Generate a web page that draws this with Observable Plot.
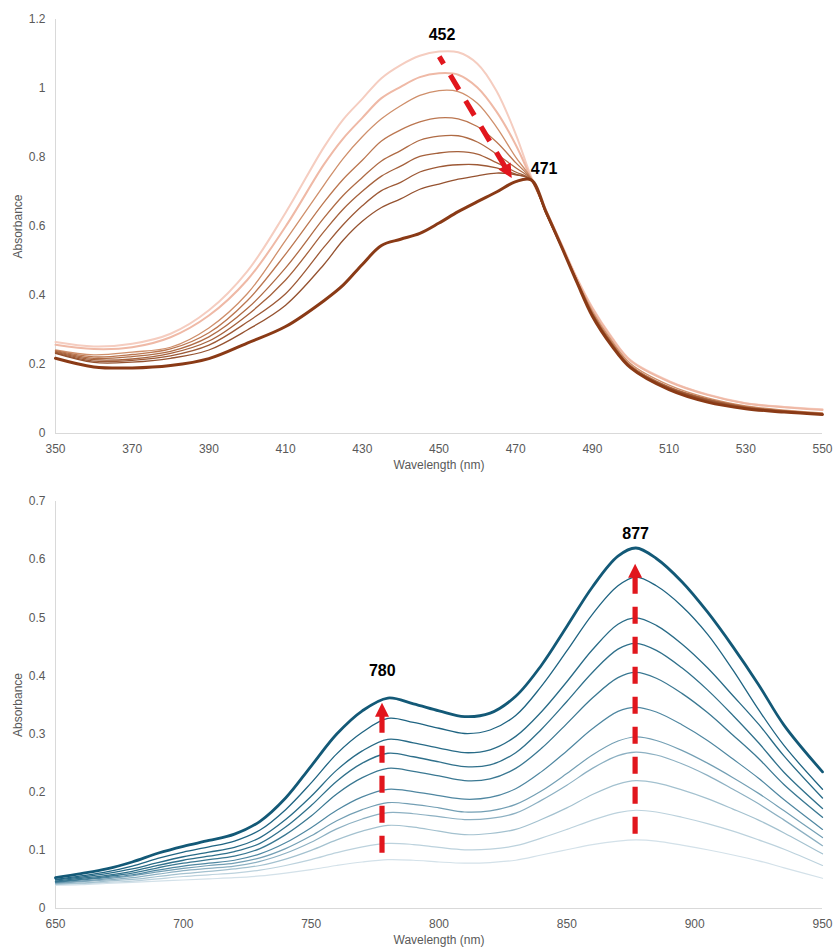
<!DOCTYPE html>
<html>
<head>
<meta charset="utf-8">
<script src="https://cdn.jsdelivr.net/npm/d3@7"></script>
<script src="https://cdn.jsdelivr.net/npm/@observablehq/plot@0.6"></script>
<style>
  html, body { margin: 0; padding: 0; background: #fff; }
  #charts svg { display: block; }
</style>
</head>
<body>
<div id="charts"></div>
<script>
// ---------- Visible region (350–550 nm): nine spectra, first to last ----------
const visWavelength = [350,360,370,380,390,400,410,420,425,430,435,440,445,450,455,460,465,470,474,478,482,486,490,495,500,510,520,530,540,550];
const visSpectrum1 = [0.265,0.252,0.260,0.289,0.357,0.470,0.640,0.830,0.910,0.970,1.030,1.068,1.095,1.107,1.105,1.072,0.993,0.868,0.745,0.645,0.548,0.450,0.365,0.280,0.212,0.152,0.113,0.088,0.077,0.070];
const visSpectrum2 = [0.257,0.245,0.250,0.279,0.342,0.445,0.600,0.780,0.855,0.915,0.972,1.005,1.033,1.044,1.040,1.003,0.933,0.837,0.740,0.643,0.546,0.448,0.362,0.277,0.210,0.150,0.112,0.087,0.076,0.068];
const visSpectrum3 = [0.242,0.228,0.236,0.250,0.306,0.405,0.560,0.720,0.797,0.860,0.912,0.950,0.980,0.994,0.991,0.957,0.888,0.801,0.740,0.640,0.543,0.445,0.355,0.270,0.202,0.140,0.103,0.080,0.068,0.060];
const visSpectrum4 = [0.240,0.222,0.229,0.245,0.292,0.385,0.520,0.670,0.737,0.792,0.848,0.880,0.903,0.915,0.912,0.890,0.845,0.785,0.738,0.638,0.541,0.443,0.350,0.265,0.197,0.135,0.100,0.078,0.066,0.058];
const visSpectrum5 = [0.238,0.218,0.223,0.238,0.280,0.362,0.480,0.625,0.690,0.742,0.790,0.820,0.850,0.862,0.863,0.845,0.810,0.770,0.737,0.637,0.540,0.442,0.348,0.262,0.195,0.134,0.099,0.077,0.065,0.057];
const visSpectrum6 = [0.236,0.214,0.216,0.232,0.268,0.343,0.445,0.585,0.650,0.702,0.746,0.775,0.803,0.813,0.817,0.810,0.785,0.758,0.736,0.636,0.539,0.441,0.346,0.260,0.193,0.133,0.098,0.076,0.064,0.056];
const visSpectrum7 = [0.234,0.210,0.212,0.225,0.256,0.323,0.405,0.540,0.605,0.660,0.704,0.728,0.758,0.773,0.779,0.779,0.770,0.752,0.735,0.636,0.539,0.441,0.345,0.259,0.192,0.132,0.097,0.075,0.064,0.056];
const visSpectrum8 = [0.232,0.206,0.207,0.218,0.242,0.300,0.372,0.490,0.560,0.615,0.655,0.680,0.708,0.723,0.737,0.747,0.755,0.750,0.735,0.635,0.538,0.440,0.344,0.258,0.191,0.130,0.095,0.074,0.063,0.055];
const visSpectrum9 = [0.218,0.193,0.190,0.197,0.217,0.262,0.310,0.385,0.430,0.490,0.545,0.563,0.580,0.610,0.643,0.672,0.700,0.730,0.735,0.640,0.540,0.437,0.340,0.255,0.190,0.127,0.091,0.072,0.062,0.055];
const visSpectra = [visSpectrum1, visSpectrum2, visSpectrum3, visSpectrum4, visSpectrum5, visSpectrum6, visSpectrum7, visSpectrum8, visSpectrum9];
const visXTicks = [350,370,390,410,430,450,470,490,510,530,550];
const visYTicks = [0,0.2,0.4,0.6,0.8,1,1.2];
const visPeakText = ["452", "471"];
const visPeakX = [450.8, 477.4];
const visPeakY = [1.156, 0.768];
const visArrows = [{x1: 450.2, y1: 1.091, x2: 469.1, y2: 0.739}];

// ---------- Near-IR region (650–950 nm): eleven spectra, first to last ----------
const nirWavelength = [650,660,670,680,690,700,710,720,730,740,750,760,770,780,790,800,810,820,830,840,850,860,870,877,885,895,905,915,925,935,950];
const nirSpectrum1  = [0.040,0.041,0.043,0.045,0.047,0.049,0.051,0.053,0.056,0.061,0.067,0.074,0.080,0.084,0.083,0.080,0.078,0.079,0.083,0.092,0.101,0.110,0.116,0.118,0.116,0.109,0.101,0.092,0.082,0.070,0.052];
const nirSpectrum2  = [0.041,0.043,0.045,0.047,0.051,0.055,0.058,0.061,0.066,0.074,0.084,0.096,0.106,0.112,0.110,0.105,0.101,0.102,0.108,0.121,0.136,0.152,0.165,0.169,0.166,0.157,0.146,0.133,0.118,0.102,0.074];
const nirSpectrum3  = [0.042,0.044,0.047,0.050,0.055,0.060,0.064,0.068,0.074,0.085,0.100,0.118,0.133,0.143,0.140,0.133,0.127,0.129,0.136,0.153,0.173,0.196,0.214,0.220,0.216,0.204,0.189,0.171,0.152,0.130,0.094];
const nirSpectrum4  = [0.043,0.046,0.049,0.053,0.059,0.065,0.069,0.073,0.081,0.095,0.114,0.137,0.154,0.165,0.163,0.158,0.153,0.155,0.164,0.186,0.212,0.241,0.263,0.269,0.264,0.249,0.229,0.205,0.180,0.152,0.108];
const nirSpectrum5  = [0.044,0.047,0.051,0.056,0.063,0.069,0.074,0.078,0.087,0.103,0.125,0.151,0.170,0.182,0.179,0.173,0.166,0.168,0.179,0.202,0.232,0.264,0.288,0.295,0.289,0.272,0.250,0.225,0.198,0.168,0.122];
const nirSpectrum6  = [0.045,0.049,0.053,0.058,0.066,0.073,0.078,0.083,0.094,0.113,0.139,0.169,0.192,0.205,0.201,0.194,0.188,0.191,0.206,0.235,0.271,0.309,0.339,0.346,0.338,0.316,0.289,0.257,0.224,0.187,0.136];
const nirSpectrum7  = [0.046,0.050,0.055,0.061,0.070,0.078,0.084,0.090,0.103,0.127,0.159,0.197,0.225,0.241,0.236,0.228,0.220,0.223,0.241,0.275,0.318,0.362,0.397,0.406,0.396,0.370,0.337,0.298,0.258,0.213,0.157];
const nirSpectrum8  = [0.047,0.052,0.057,0.064,0.074,0.083,0.090,0.098,0.112,0.140,0.177,0.219,0.250,0.267,0.261,0.252,0.244,0.247,0.268,0.308,0.356,0.406,0.446,0.456,0.444,0.414,0.376,0.332,0.285,0.234,0.172];
const nirSpectrum9  = [0.049,0.054,0.060,0.068,0.079,0.089,0.097,0.105,0.122,0.153,0.193,0.238,0.271,0.291,0.285,0.276,0.268,0.273,0.296,0.338,0.390,0.445,0.489,0.500,0.487,0.455,0.414,0.366,0.317,0.262,0.190];
const nirSpectrum10 = [0.050,0.056,0.063,0.073,0.086,0.097,0.106,0.116,0.135,0.170,0.216,0.266,0.303,0.327,0.320,0.310,0.301,0.307,0.332,0.382,0.443,0.506,0.555,0.570,0.555,0.520,0.472,0.410,0.342,0.280,0.205];
const nirSpectrum11 = [0.053,0.060,0.068,0.080,0.095,0.107,0.117,0.128,0.150,0.190,0.245,0.300,0.340,0.362,0.352,0.340,0.330,0.336,0.365,0.418,0.485,0.553,0.606,0.620,0.602,0.562,0.510,0.450,0.385,0.315,0.235];
const nirSpectra = [nirSpectrum1, nirSpectrum2, nirSpectrum3, nirSpectrum4, nirSpectrum5, nirSpectrum6, nirSpectrum7, nirSpectrum8, nirSpectrum9, nirSpectrum10, nirSpectrum11];
const nirXTicks = [650,700,750,800,850,900,950];
const nirYTicks = [0,0.1,0.2,0.3,0.4,0.5,0.6,0.7];
const nirPeakText = ["780", "877"];
const nirPeakX = [777.8, 876.9];
const nirPeakY = [0.408, 0.645];
const nirArrows = [
  {x1: 777.9, y1: 0.091, x2: 777.9, y2: 0.353},
  {x1: 876.9, y1: 0.112, x2: 876.9, y2: 0.592}
];

// ---------- Styles ----------
const FONT = "'Liberation Sans', Arial, Helvetica, sans-serif";
const TICK_COLOR = "#595959";
const AXIS_COLOR = "#d9d9d9";
const ARROW_RED = "#e1161d";
const visColors = ["#f5cdc0","#efb9a6","#cf8f6b","#bb7650","#af6b45","#a5613c","#9d5936","#955230","#8a3a16"];
const visWidths = [2, 2, 1.3, 1.3, 1.3, 1.3, 1.3, 1.3, 3];
const nirColors = ["#d3e1e9","#bcd2dd","#a3c1cf","#8cb0c2","#739fb4","#4f87a1","#3a7892","#2f708b","#286b87","#1f6482","#135977"];
const nirWidths = [1.2, 1.2, 1.2, 1.2, 1.2, 1.2, 1.3, 1.3, 1.3, 1.3, 2.8];

// Dashed arrow with a filled head, positioned through the plot's own scales.
function dashedArrows(arrows) {
  const headLen = 14, headHalf = 7;
  return (index, {x, y}) => {
    const g = d3.create("svg:g");
    for (const a of arrows) {
      const x1 = x(a.x1), y1 = y(a.y1), x2 = x(a.x2), y2 = y(a.y2);
      const len = Math.hypot(x2 - x1, y2 - y1);
      const ux = (x2 - x1) / len, uy = (y2 - y1) / len;
      const bx = x2 - ux * headLen, by = y2 - uy * headLen;
      g.append("line")
        .attr("x1", bx + ux).attr("y1", by + uy)
        .attr("x2", x1).attr("y2", y1)
        .attr("stroke", ARROW_RED)
        .attr("stroke-width", 5.2)
        .attr("stroke-dasharray", "17 13");
      g.append("path")
        .attr("d", `M${x2},${y2}L${bx - uy * headHalf},${by + ux * headHalf}L${bx + uy * headHalf},${by - ux * headHalf}Z`)
        .attr("fill", ARROW_RED);
    }
    return g.node();
  };
}

function spectraPanel({wavelength, spectra, colors, widths, xDomain, yDomain, xTicks, yTicks,
                       peakText, peakX, peakY, arrows, height, marginTop, marginBottom}) {
  const lines = spectra.map((values, i) =>
    Plot.line(values, {
      x: (d, j) => wavelength[j],
      y: d => d,
      stroke: colors[i],
      strokeWidth: widths[i],
      curve: "catmull-rom"
    })
  );
  return Plot.plot({
    width: 834,
    height,
    marginTop,
    marginBottom,
    marginLeft: 55,
    marginRight: 12,
    style: {fontFamily: FONT, fontSize: "12px", background: "#fff", overflow: "visible"},
    x: {domain: xDomain},
    y: {domain: yDomain},
    marks: [
      Plot.ruleY([yDomain[0]], {stroke: AXIS_COLOR, strokeWidth: 1}),
      Plot.ruleX([xDomain[0]], {stroke: AXIS_COLOR, strokeWidth: 1}),
      Plot.axisX({ticks: xTicks, tickSize: 0, tickPadding: 11, label: null, color: TICK_COLOR, fill: TICK_COLOR, fontSize: 12}),
      Plot.axisY({ticks: yTicks, tickSize: 0, tickPadding: 10, label: null, tickFormat: d3.format("~g"), color: TICK_COLOR, fill: TICK_COLOR, fontSize: 12}),
      ...lines,
      dashedArrows(arrows),
      Plot.text(peakText, {
        x: (d, i) => peakX[i],
        y: (d, i) => peakY[i],
        text: d => d,
        fontSize: 16,
        fontWeight: "bold",
        fill: "#000"
      }),
      Plot.text(["Wavelength (nm)"], {
        text: d => d, frameAnchor: "bottom", lineAnchor: "middle", textAnchor: "middle",
        dy: 32, fontSize: 12, fill: TICK_COLOR
      }),
      Plot.text(["Absorbance"], {
        text: d => d, frameAnchor: "left", lineAnchor: "middle", textAnchor: "middle",
        rotate: -90, dx: -37, fontSize: 12, fill: TICK_COLOR
      })
    ]
  });
}

const charts = document.getElementById("charts");

charts.append(spectraPanel({
  wavelength: visWavelength,
  spectra: visSpectra,
  colors: visColors,
  widths: visWidths,
  xDomain: [350, 550],
  yDomain: [0, 1.2],
  xTicks: visXTicks,
  yTicks: visYTicks,
  peakText: visPeakText,
  peakX: visPeakX,
  peakY: visPeakY,
  arrows: visArrows,
  height: 480,
  marginTop: 19,
  marginBottom: 47
}));

charts.append(spectraPanel({
  wavelength: nirWavelength,
  spectra: nirSpectra,
  colors: nirColors,
  widths: nirWidths,
  xDomain: [650, 950],
  yDomain: [0, 0.7],
  xTicks: nirXTicks,
  yTicks: nirYTicks,
  peakText: nirPeakText,
  peakX: nirPeakX,
  peakY: nirPeakY,
  arrows: nirArrows,
  height: 469,
  marginTop: 21,
  marginBottom: 41
}));
</script>
</body>
</html>
